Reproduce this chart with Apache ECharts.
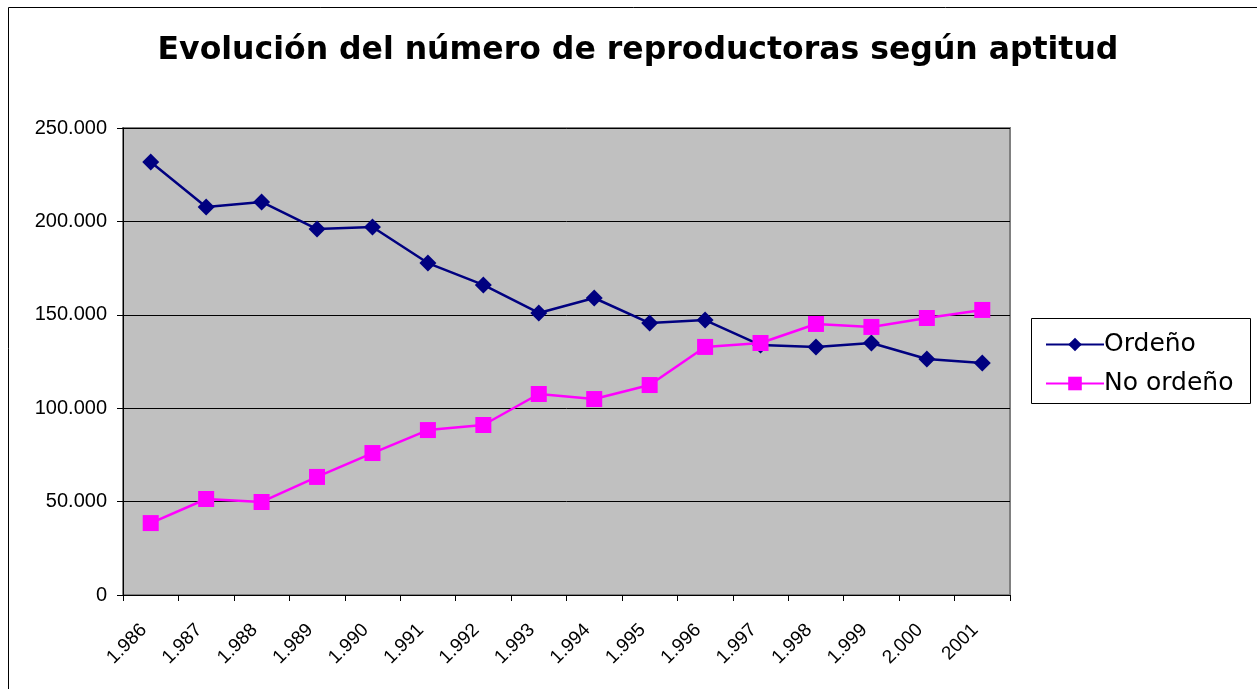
<!DOCTYPE html>
<html><head><meta charset="utf-8">
<script src="https://cdn.jsdelivr.net/npm/echarts@6/dist/echarts.min.js"></script>
<style>html,body{margin:0;padding:0;background:#fff}#c{width:1257px;height:689px}</style>
</head><body><div id="c"></div>
<script>
const categories = ['1.986','1.987','1.988','1.989','1.990','1.991','1.992','1.993','1.994','1.995','1.996','1.997','1.998','1.999','2.000','2001'];
const ordeno = [231800,207700,210400,195900,197000,177700,166000,151000,159000,145600,147200,133800,132800,134900,126300,124200];
const noOrdeno = [38500,51400,49800,63200,76000,88300,91000,107600,104900,112400,132800,134900,145100,143500,148300,152600];
const yTicks = [0,50000,100000,150000,200000,250000];
const yTickLabels = ['0','50.000','100.000','150.000','200.000','250.000'];

const chart = echarts.init(document.getElementById('c'), null, {renderer:'canvas'});
chart.setOption({
  animation:false,
  backgroundColor:'#fff',
  title:{text:'Evolución del número de reproductoras según aptitud', left:633, top:30, textAlign:'center',
    textStyle:{fontFamily:'DejaVu Sans', fontWeight:'bold', fontSize:31.5, color:'#000'}},
  graphic:[
    {type:'rect', shape:{x:8.5,y:7.5,width:1260,height:700}, style:{fill:null, stroke:'#000', lineWidth:1}, z:-1},
    {type:'rect', shape:{x:1031.5,y:318.5,width:219,height:85}, style:{fill:'#fff', stroke:'#000', lineWidth:1}, z:0}
  ],
  legend:{left:1040, top:327, orient:'vertical', itemGap:14, itemWidth:58, itemHeight:17,
    textStyle:{fontFamily:'DejaVu Sans', fontSize:25, color:'#000', padding:[0,0,0,-5]},
    data:['Ordeño','No ordeño'], z:5},
  grid:{left:123, top:128, right:247, bottom:94, show:true, backgroundColor:'#C0C0C0', borderColor:'#808080', borderWidth:2},
  xAxis:{type:'category', data:categories, boundaryGap:true,
    axisLine:{lineStyle:{color:'#000', width:1}},
    axisTick:{show:true, length:6, alignWithLabel:false, lineStyle:{color:'#000'}},
    axisLabel:{rotate:45, fontFamily:'Liberation Sans', fontSize:19, color:'#000', margin:25, interval:0, padding:[0,10,0,0]}},
  yAxis:{type:'value', min:0, max:250000, interval:50000,
    axisLine:{show:true, lineStyle:{color:'#000'}},
    axisTick:{show:true, length:6, lineStyle:{color:'#000'}},
    splitLine:{show:true, lineStyle:{color:'#000', width:1}},
    axisLabel:{fontFamily:'Liberation Sans', fontSize:20, color:'#000', margin:16,
      formatter: v => { const i = yTicks.indexOf(v); return i >= 0 ? yTickLabels[i] : ''; }}},
  series:[
    {name:'Ordeño', type:'line', data:ordeno, symbol:'diamond', symbolSize:17,
      lineStyle:{color:'#000080', width:2.5}, itemStyle:{color:'#000080'}, z:3},
    {name:'No ordeño', type:'line', data:noOrdeno, symbol:'rect', symbolSize:16,
      lineStyle:{color:'#FF00FF', width:2.5}, itemStyle:{color:'#FF00FF'}, z:4}
  ]
});
</script></body></html>
